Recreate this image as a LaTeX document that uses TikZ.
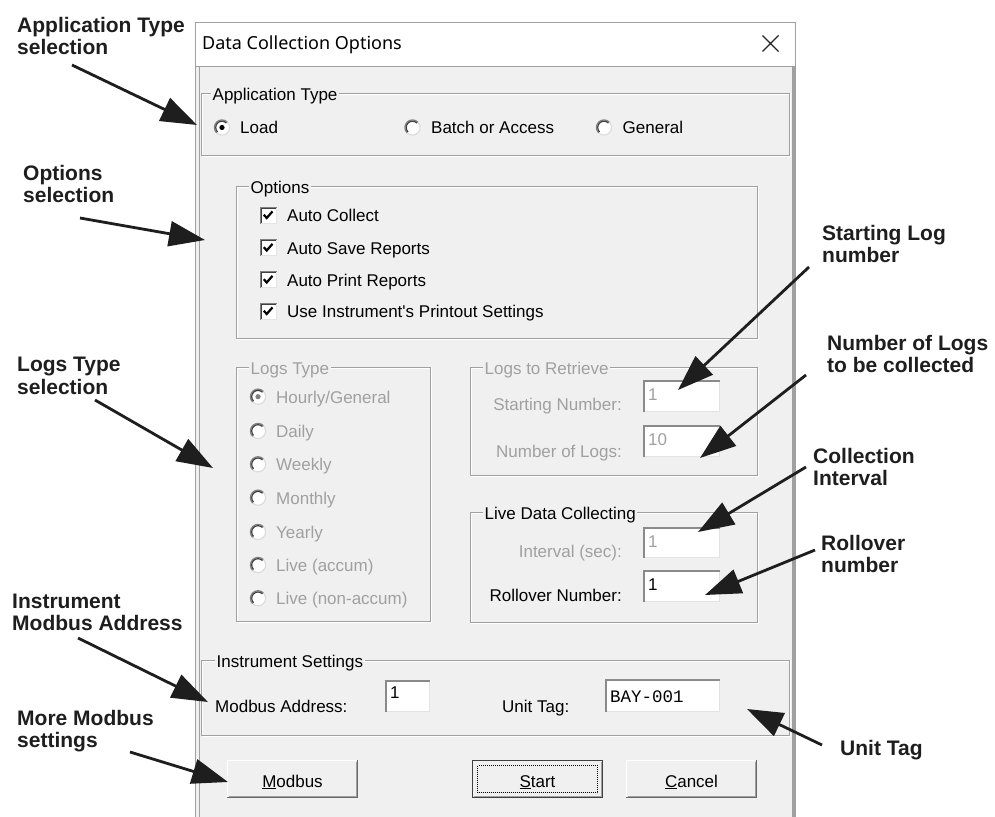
\documentclass[tikz,border=0pt]{standalone}
\usepackage{fontspec}
\setmainfont{Liberation Sans}
\newfontfamily\titlefont{Noto Sans}
\newfontfamily\editmono{Liberation Mono}
\usetikzlibrary{arrows.meta}
\definecolor{dlgbg}{HTML}{F0F0F0}
\definecolor{framecol}{HTML}{A0A0A0}
\definecolor{grpline}{HTML}{A0A0A0}
\definecolor{discol}{HTML}{A0A0A0}
\definecolor{edgedark}{HTML}{8A8A8A}
\definecolor{edgelight}{HTML}{E3E3E3}
\definecolor{btndark}{HTML}{696969}
\definecolor{btnmid}{HTML}{A0A0A0}
\definecolor{radout}{HTML}{808080}
\definecolor{radin}{HTML}{404040}
\definecolor{radlight}{HTML}{DCDCDC}
\definecolor{annocol}{HTML}{1E1E1E}

% group box: name, x1, y1, x2, y2, label x, label, label colour
\newcommand\gbox[8]{%
  \draw[white] ({#2+1},{#3+1}) rectangle ({#4+1},{#5+1});
  \draw[grpline] (#2,#3) rectangle (#4,#5);
  \node[ui, fill=dlgbg, inner xsep=1.5pt, text=#8] (#1) at (#6,{#3+7}) {#7};
}
% radio button: name, x, y
\newcommand\radiobtn[3]{%
  \coordinate (#1) at (#2,#3);
  \fill[white] (#1) circle (8);
  \draw[radlight, line width=1.2pt] (#1) ++(-45:7.6) arc[start angle=-45, end angle=135, radius=7.6];
  \draw[radout, line width=1.2pt] (#1) ++(135:7.6) arc[start angle=135, end angle=315, radius=7.6];
  \draw[radin, line width=1.2pt] (#1) ++(135:6.3) arc[start angle=135, end angle=315, radius=6.3];
}
% check box: name, x, y
\newcommand\chkbox[3]{%
  \coordinate (#1) at (#2,#3);
  \fill[white] ({#2-8.5},{#3-8.5}) rectangle ({#2+8.5},{#3+8.5});
  \draw[edgelight, line width=1pt] ({#2-8.5},{#3+8}) -- ({#2+8},{#3+8}) -- ({#2+8},{#3-8.5});
  \draw[radout, line width=1.2pt] ({#2-7.9},{#3+8.5}) -- ({#2-7.9},{#3-7.9}) -- ({#2+8.5},{#3-7.9});
  \draw[radin, line width=1.2pt] ({#2-6.7},{#3+7.5}) -- ({#2-6.7},{#3-6.7}) -- ({#2+7.5},{#3-6.7});
  \draw[black, line width=2.2pt] ({#2-4.2},{#3-0.3}) -- ({#2-1.3},{#3+3}) -- ({#2+4.5},{#3-3.6});
}
% edit box: name, x1, y1, x2, y2
\newcommand\editbox[5]{%
  \coordinate (#1) at (#2,#3);
  \fill[white] (#2,#3) rectangle (#4,#5);
  \draw[edgelight, line width=1.5pt] ({#2},{#5-0.75}) -- ({#4-0.75},{#5-0.75}) -- ({#4-0.75},{#3});
  \draw[edgedark, line width=2pt] ({#2+1},{#5}) -- ({#2+1},{#3+1}) -- ({#4},{#3+1});
}
% push button: name, x1, y1, x2, y2, text
\newcommand\pushbtn[6]{%
  \fill[dlgbg] (#2,#3) rectangle (#4,#5);
  \draw[white, line width=1.2pt] ({#2+0.6},{#5-1}) -- ({#2+0.6},{#3+0.6}) -- ({#4-1},{#3+0.6});
  \draw[btnmid, line width=1pt] ({#2+1.5},{#5-2}) -- ({#4-2},{#5-2}) -- ({#4-2},{#3+1.5});
  \draw[btndark, line width=1.4pt] ({#2},{#5-0.7}) -- ({#4-0.7},{#5-0.7}) -- ({#4-0.7},{#3});
  \node[ui, anchor=base] (#1) at ({(#2+#4)/2},{#5-11}) {#6};
}

\begin{document}
\begin{tikzpicture}[x=1pt,y=-1pt,
  ui/.style={font=\fontsize{17}{20}\selectfont, inner sep=0pt, anchor=base west, text=black},
  uidis/.style={ui, text=discol},
  anno/.style={font=\fontsize{21}{22.5}\selectfont\bfseries, inner sep=0pt, anchor=base west, text=annocol},
  pointer/.style={line width=2.8pt, draw=annocol, -{Triangle[length=36pt,width=25pt]}},
]
\useasboundingbox (0,0) rectangle (995,816);
\clip (0,0) rectangle (995,816);
\fill[white] (0,0) rectangle (995,816);

% ---- dialog frame ----
\fill[dlgbg] (195,22) rectangle (796,820);
\fill[white] (196,23) rectangle (795,66);
\draw[framecol] (195.5,820) -- (195.5,22.5) -- (795.5,22.5) -- (795.5,820);
\draw[framecol] (196,66.5) -- (795,66.5);
\draw[framecol] (199.5,66.5) -- (199.5,820);
\fill[framecol] (792,66.5) rectangle (796,820);

\node[font=\titlefont\fontsize{18}{20}\selectfont, inner sep=0pt, anchor=base west] (title) at (202,50) {Data Collection Options};
\coordinate (closex) at (770.5,43.5);
\draw[black!85, line width=1.3pt] (762.5,35.5) -- (778.5,51.5) (778.5,35.5) -- (762.5,51.5);

% ---- group boxes ----
\gbox{gapp}{201}{93}{789}{155}{211}{Application Type}{black}
\gbox{gopt}{236}{186}{757}{338}{249}{Options}{black}
\gbox{glogs}{236}{367}{430}{621}{249}{Logs Type}{discol}
\gbox{gret}{470}{367}{757}{475}{483}{Logs to Retrieve}{discol}
\gbox{glive}{470}{512}{757}{622}{483}{Live Data Collecting}{black}
\gbox{ginst}{201}{660}{789}{735}{215}{Instrument Settings}{black}

% ---- application type ----
\radiobtn{rload}{222}{127.5}
\fill[black] (rload) circle (2.6);
\node[ui] (tload) at (240,133.5) {Load};
\radiobtn{rbatch}{412.5}{127.5}
\node[ui] (tbatch) at (431,133.5) {Batch or Access};
\radiobtn{rgen}{604}{127.5}
\node[ui] (tgen) at (622.5,133.5) {General};

% ---- options ----
\chkbox{c1}{268}{215}
\node[ui] (tc1) at (287,221.5) {Auto Collect};
\chkbox{c2}{268}{247.5}
\node[ui] (tc2) at (287,254) {Auto Save Reports};
\chkbox{c3}{268}{279.5}
\node[ui] (tc3) at (287,286) {Auto Print Reports};
\chkbox{c4}{268}{311}
\node[ui] (tc4) at (287,317.5) {Use Instrument\textquotesingle s Printout Settings};

% ---- logs type ----
\radiobtn{l1}{258}{396.7}
\fill[radout] (l1) circle (2.6);
\node[uidis] (tl1) at (276,403.2) {Hourly/General};
\radiobtn{l2}{258}{431}
\node[uidis] (tl2) at (276,437.5) {Daily};
\radiobtn{l3}{258}{464.3}
\node[uidis] (tl3) at (276,470.8) {Weekly};
\radiobtn{l4}{258}{497.7}
\node[uidis] (tl4) at (276,504.2) {Monthly};
\radiobtn{l5}{258}{532}
\node[uidis] (tl5) at (276,538.5) {Yearly};
\radiobtn{l6}{258}{565}
\node[uidis] (tl6) at (276,571.5) {Live (accum)};
\radiobtn{l7}{258}{598.3}
\node[uidis] (tl7) at (276,604.8) {Live (non-accum)};

% ---- logs to retrieve ----
\node[uidis, anchor=base east] (lstart) at (622,410) {Starting Number:};
\editbox{estart}{643}{380}{720}{412}
\node[uidis] (vstart) at (648,400) {1};
\node[uidis, anchor=base east] (lnum) at (622,457) {Number of Logs:};
\editbox{enum}{643}{425}{720}{457}
\node[uidis] (vnum) at (648,445) {10};

% ---- live data collecting ----
\node[uidis, anchor=base east] (lint) at (622,557) {Interval (sec):};
\editbox{eint}{643}{527}{720}{558}
\node[uidis] (vint) at (648,547) {1};
\node[ui, anchor=base east] (lroll) at (622,601) {Rollover Number:};
\editbox{eroll}{643}{570}{720}{602}
\node[ui] (vroll) at (648,590) {1};

% ---- instrument settings ----
\node[ui] (laddr) at (215,712) {Modbus Address:};
\editbox{eaddr}{385}{680}{430}{712}
\node[ui] (vaddr) at (390,698) {1};
\node[ui] (ltag) at (502,712) {Unit Tag:};
\editbox{etag}{605}{679}{720}{712}
\node[ui, font=\editmono\fontsize{17.5}{20}\selectfont] (vtag) at (610,702) {BAY-001};

% ---- buttons ----
\pushbtn{bmod}{227}{760}{358}{798}{\underline{M}odbus}
\pushbtn{bstart}{472}{760}{603}{798}{\underline{S}tart}
\draw[radin, line width=1.2pt] (472.6,760.6) rectangle (602.4,797.4);
\draw[black, line width=0.9pt, dash pattern=on 1pt off 1pt] (477.5,765.5) rectangle (597.5,792.5);
\pushbtn{bcancel}{626}{760}{757}{798}{\underline{C}ancel}

% ---- annotations ----
\node[anno] (nApp) at (17,32.5) {\begin{tabular}[t]{@{}l@{}}Application Type\\selection\end{tabular}};
\node[anno] (nOpt) at (23,180) {\begin{tabular}[t]{@{}l@{}}Options\\selection\end{tabular}};
\node[anno] (nLogs) at (17,371.5) {\begin{tabular}[t]{@{}l@{}}Logs Type\\selection\end{tabular}};
\node[anno] (nInst) at (12,608) {\begin{tabular}[t]{@{}l@{}}Instrument\\Modbus Address\end{tabular}};
\node[anno] (nMore) at (17,725) {\begin{tabular}[t]{@{}l@{}}More Modbus\\settings\end{tabular}};
\node[anno] (nStart) at (822,240) {\begin{tabular}[t]{@{}l@{}}Starting Log\\number\end{tabular}};
\node[anno] (nNum) at (827,350) {\begin{tabular}[t]{@{}l@{}}Number of Logs\\to be collected\end{tabular}};
\node[anno] (nColl) at (813,463) {\begin{tabular}[t]{@{}l@{}}Collection\\Interval\end{tabular}};
\node[anno] (nRoll) at (821,550) {\begin{tabular}[t]{@{}l@{}}Rollover\\number\end{tabular}};
\node[anno] (nTag) at (840,755) {Unit Tag};

% ---- pointer arrows ----
\coordinate (pAs) at (72,65);   \coordinate (pAt) at (197,125);
\coordinate (pOs) at (80,218);  \coordinate (pOt) at (205,240);
\coordinate (pLs) at (95,400);  \coordinate (pLt) at (213,468);
\coordinate (pIs) at (78,638);  \coordinate (pIt) at (208,702);
\coordinate (pMs) at (130,752); \coordinate (pMt) at (228,782);
\coordinate (pSs) at (809,267); \coordinate (pSt) at (678,390);
\coordinate (pNs) at (806,375); \coordinate (pNt) at (700,458);
\coordinate (pCs) at (806,467); \coordinate (pCt) at (698,532);
\coordinate (pRs) at (815,550); \coordinate (pRt) at (705,595);
\coordinate (pUs) at (822,745); \coordinate (pUt) at (747,709);
\draw[pointer] (pAs) -- (pAt);
\draw[pointer] (pOs) -- (pOt);
\draw[pointer] (pLs) -- (pLt);
\draw[pointer] (pIs) -- (pIt);
\draw[pointer] (pMs) -- (pMt);
\draw[pointer] (pSs) -- (pSt);
\draw[pointer] (pNs) -- (pNt);
\draw[pointer] (pCs) -- (pCt);
\draw[pointer] (pRs) -- (pRt);
\draw[pointer] (pUs) -- (pUt);
\end{tikzpicture}
\end{document}
